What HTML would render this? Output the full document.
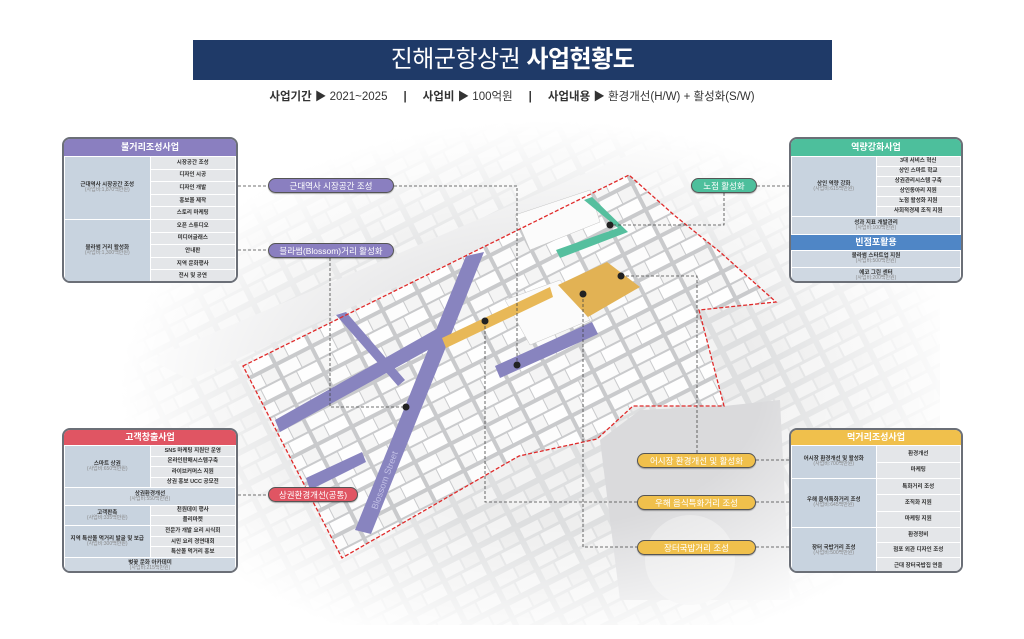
<!DOCTYPE html>
<html><head><meta charset="utf-8"><style>
*{margin:0;padding:0;box-sizing:border-box}
body{width:1024px;height:639px;overflow:hidden;background:#fff;font-family:"Liberation Sans","Noto Sans CJK KR",sans-serif;position:relative}
.abs{position:absolute}
.title{left:193px;top:40px;width:639px;height:40px;background:#1f3a68;color:#fff;font-size:24px;text-align:center;line-height:40px;letter-spacing:-0.5px}
.sub{left:0;top:88px;width:1024px;text-align:center;font-size:11.5px;color:#333}
.panel{position:absolute;border:2px solid #6b6f77;border-radius:8px;overflow:hidden;background:#e6e8eb}
.panel table{border-collapse:collapse;width:100%;table-layout:fixed}
.panel td{border:1px solid #fff;font-size:5.5px;color:#333;text-align:center;font-weight:bold;padding:0;line-height:1.1}
.hd{color:#fff;font-size:9px;font-weight:bold;text-align:center}
td.l{background:#c8d3df}
td.r{background:#e4e6e9}
td.f{background:#cfd8e2}
.s{font-weight:normal;color:#888;font-size:5px;display:block}
.pill{position:absolute;height:15px;border-radius:8px;color:#fff;font-size:8.5px;text-align:center;line-height:14px;border:1px solid #555;box-shadow:0 1px 1px rgba(0,0,0,.3)}
</style></head><body>
<svg class="abs" style="left:0;top:0" width="1024" height="639">
<defs>
<pattern id="bld" width="40" height="30" patternUnits="userSpaceOnUse" patternTransform="rotate(-27)">
<rect width="40" height="30" fill="#c9cacc"/>
<rect x="2" y="2" width="20" height="12" fill="#fcfcfc"/><rect x="23" y="2" width="15" height="12" fill="#f4f4f4"/>
<rect x="2" y="16" width="13" height="12" fill="#f6f6f6"/><rect x="16" y="16" width="22" height="12" fill="#fefefe"/>
</pattern>
<pattern id="bld2" width="44" height="32" patternUnits="userSpaceOnUse" patternTransform="rotate(-27)">
<rect width="44" height="32" fill="#dedfe0"/>
<rect x="3" y="3" width="20" height="11" fill="#f1f1f1"/><rect x="25" y="3" width="16" height="11" fill="#ececec"/>
<rect x="3" y="17" width="14" height="12" fill="#eeeeee"/><rect x="19" y="17" width="22" height="12" fill="#f3f3f3"/>
</pattern>
<radialGradient id="fade" cx="52%" cy="55%" r="52%"><stop offset="0.5" stop-color="#fff" stop-opacity="0"/><stop offset="1" stop-color="#fff" stop-opacity="1"/></radialGradient>
</defs>
<rect x="120" y="105" width="820" height="520" fill="url(#bld2)"/>
<polygon points="150,360 640,150 700,150 190,380" fill="#e9e9ea"/>
<polygon points="600,440 640,410 724,406 780,400 790,600 620,600" fill="#dadadc"/>
<circle cx="690" cy="560" r="45" fill="#e6e6e7"/>
<rect x="120" y="105" width="820" height="520" fill="url(#fade)"/>
<!-- district -->
<polygon points="243,366 629,175 674,215 720,252 776,302 699,310 724,406 633,406 597,439 519,456 342,558" fill="url(#bld)"/>
<g fill="#fbfbfb" stroke="#c5c5c5" stroke-width="0.5">
<polygon points="505,300 560,280 590,320 530,345"/>
<polygon points="515,215 590,190 600,222 530,250"/>
</g>
<!-- colored roads -->
<polygon points="466,256 484,252 371,534 355,530" fill="#8884bf"/>
<polygon points="275,420 440,327 446,340 280,432" fill="#8884bf"/>
<polygon points="306,478 362,452 366,462 310,490" fill="#8884bf"/>
<polygon points="336,315 346,312 405,380 398,386" fill="#8884bf"/>
<polygon points="495,366 592,322 598,334 500,378" fill="#8884bf"/>
<polygon points="442,338 550,287 553,297 446,348" fill="#e8b857"/>
<polygon points="558,285 607,262 640,287 588,317" fill="#e2b254"/>
<polygon points="584,200 592,197 628,232 560,258 556,250 618,228" fill="#55bf9e"/>
<text x="0" y="0" transform="translate(377,510) rotate(-70)" font-size="9" fill="#c3c1e6" font-family="Liberation Sans">Blossom Street</text>
<polygon points="243,366 629,175 674,215 720,252 776,302 699,310 724,406 633,406 597,439 519,456 342,558" fill="none" stroke="#e02a2a" stroke-width="1.3" stroke-dasharray="4,2"/>
<!-- connectors -->
<g stroke="#444" stroke-width="0.8" stroke-dasharray="3,2" fill="none">
<path d="M238,186H268M394,186H517V365"/>
<path d="M238,250H268M330,258V407H406"/>
<path d="M757,186H789M724,193V225H610"/>
<path d="M621,276H697V453"/>
<path d="M756,460H789M756,502H789M756,547H789"/>
<path d="M485,321V502H637M583,294V547H637"/>
<path d="M238,495H268"/>
</g>
<g fill="#222"><circle cx="610" cy="225" r="3.5"/><circle cx="621" cy="276" r="3.5"/><circle cx="583" cy="294" r="3.5"/><circle cx="485" cy="321" r="3.5"/><circle cx="517" cy="365" r="3.5"/><circle cx="406" cy="407" r="3.5"/></g>
</svg>
<div class="abs title">진해군항상권 <b>사업현황도</b></div>
<div class="abs sub"><b>사업기간</b> ▶ 2021~2025 &nbsp;&nbsp;&nbsp; <b>|</b> &nbsp;&nbsp;&nbsp; <b>사업비</b> ▶ 100억원 &nbsp;&nbsp;&nbsp; <b>|</b> &nbsp;&nbsp;&nbsp; <b>사업내용</b> ▶ 환경개선(H/W) + 활성화(S/W)</div>

<div class="panel" style="left:62px;top:137px;width:176px;height:146px">
<div class="hd" style="background:#8a7fc0;height:17px;line-height:17px">불거리조성사업</div>
<table><colgroup><col style="width:50%"><col></colgroup>
<tr style="height:12.6px"><td class="l" rowspan="5">근대역사 시장공간 조성<span class="s">(사업비:1,870백만원)</span></td><td class="r">시장공간 조성</td></tr>
<tr style="height:12.6px"><td class="r">디자인 시공</td></tr><tr style="height:12.6px"><td class="r">디자인 개발</td></tr><tr style="height:12.6px"><td class="r">홍보물 제작</td></tr><tr style="height:12.6px"><td class="r">스토리 마케팅</td></tr>
<tr style="height:12.6px"><td class="l" rowspan="5">불라썸 거리 활성화<span class="s">(사업비:1,300백만원)</span></td><td class="r">오픈 스튜디오</td></tr>
<tr style="height:12.6px"><td class="r">미디어글래스</td></tr><tr style="height:12.6px"><td class="r">안내판</td></tr><tr style="height:12.6px"><td class="r">지역 문화행사</td></tr><tr style="height:12.6px"><td class="r">전시 및 공연</td></tr>
</table></div>

<div class="panel" style="left:789px;top:137px;width:174px;height:146px">
<div class="hd" style="background:#4dbf9c;height:17px;line-height:17px">역량강화사업</div>
<table><colgroup><col style="width:50%"><col></colgroup>
<tr style="height:10px"><td class="l" rowspan="6">상인 역량 강화<span class="s">(사업비:615백만원)</span></td><td class="r">3대 서비스 혁신</td></tr>
<tr style="height:10px"><td class="r">상인 스마트 학교</td></tr><tr style="height:10px"><td class="r">상권관리시스템 구축</td></tr><tr style="height:10px"><td class="r">상인동아리 지원</td></tr><tr style="height:10px"><td class="r">노점 활성화 지원</td></tr><tr style="height:10px"><td class="r">사회적경제 조직 지원</td></tr>
<tr style="height:18px"><td class="f" colspan="2">성과 지표 개발관리<span class="s">(사업비:100백만원)</span></td></tr>
</table>
<div class="hd" style="background:#4f86c6;height:15px;line-height:15px">빈점포활용</div>
<table><tr style="height:17px"><td class="f">불라썸 스타트업 지원<span class="s">(사업비:500백만원)</span></td></tr>
<tr style="height:17px"><td class="f">에코 그린 센터<span class="s">(사업비:200백만원)</span></td></tr></table>
</div>

<div class="panel" style="left:62px;top:428px;width:176px;height:145px">
<div class="hd" style="background:#e05563;height:15px;line-height:15px">고객창출사업</div>
<table><colgroup><col style="width:50%"><col></colgroup>
<tr style="height:10.5px"><td class="l" rowspan="4">스마트 상권<span class="s">(사업비:650백만원)</span></td><td class="r">SNS 마케팅 지원단 운영</td></tr>
<tr style="height:10.5px"><td class="r">온라인판매시스템구축</td></tr><tr style="height:10.5px"><td class="r">라이브커머스 지원</td></tr><tr style="height:10.5px"><td class="r">상권 홍보 UCC 공모전</td></tr>
<tr style="height:18px"><td class="f" colspan="2">상권환경개선<span class="s">(사업비:550백만원)</span></td></tr>
<tr style="height:10px"><td class="l" rowspan="2">고객판촉<span class="s">(사업비:335백만원)</span></td><td class="r">천원데이 행사</td></tr>
<tr style="height:10px"><td class="r">플리마켓</td></tr>
<tr style="height:10.7px"><td class="l" rowspan="3">지역 특산물 먹거리 발굴 및 보급<span class="s">(사업비:300백만원)</span></td><td class="r">전문가 개발 요리 시식회</td></tr>
<tr style="height:10.7px"><td class="r">시민 요리 경연대회</td></tr><tr style="height:10.7px"><td class="r">특산물 먹거리 홍보</td></tr>
<tr style="height:16px"><td class="f" colspan="2">벚꽃 문화 아카데미<span class="s">(사업비:215백만원)</span></td></tr>
</table></div>

<div class="panel" style="left:789px;top:428px;width:174px;height:145px">
<div class="hd" style="background:#f0c04c;height:15px;line-height:15px">먹거리조성사업</div>
<table><colgroup><col style="width:50%"><col></colgroup>
<tr style="height:16.5px"><td class="l" rowspan="2">어시장 환경개선 및 활성화<span class="s">(사업비:700백만원)</span></td><td class="r">환경개선</td></tr>
<tr style="height:16.5px"><td class="r">마케팅</td></tr>
<tr style="height:16.3px"><td class="l" rowspan="3">우해 음식특화거리 조성<span class="s">(사업비:645백만원)</span></td><td class="r">특화거리 조성</td></tr>
<tr style="height:16.3px"><td class="r">조직화 지원</td></tr><tr style="height:16.3px"><td class="r">마케팅 지원</td></tr>
<tr style="height:15.3px"><td class="l" rowspan="3">장터 국밥거리 조성<span class="s">(사업비:500백만원)</span></td><td class="r">환경정비</td></tr>
<tr style="height:15.3px"><td class="r">점포 외관 디자인 조성</td></tr><tr style="height:15.3px"><td class="r">근대 장터국밥집 연출</td></tr>
</table></div>

<div class="pill" style="left:268px;top:178px;width:126px;background:#8a7fc0">근대역사 시장공간 조성</div>
<div class="pill" style="left:268px;top:243px;width:126px;background:#8a7fc0">블라썸(Blossom)거리 활성화</div>
<div class="pill" style="left:691px;top:178px;width:66px;background:#4dbf9c">노점 활성화</div>
<div class="pill" style="left:268px;top:487px;width:90px;background:#e05563">상권환경개선(공통)</div>
<div class="pill" style="left:637px;top:453px;width:119px;background:#f0c04c">어시장 환경개선 및 활성화</div>
<div class="pill" style="left:637px;top:495px;width:119px;background:#f0c04c">우해 음식특화거리 조성</div>
<div class="pill" style="left:637px;top:540px;width:119px;background:#f0c04c">장터국밥거리 조성</div>
</body></html>
